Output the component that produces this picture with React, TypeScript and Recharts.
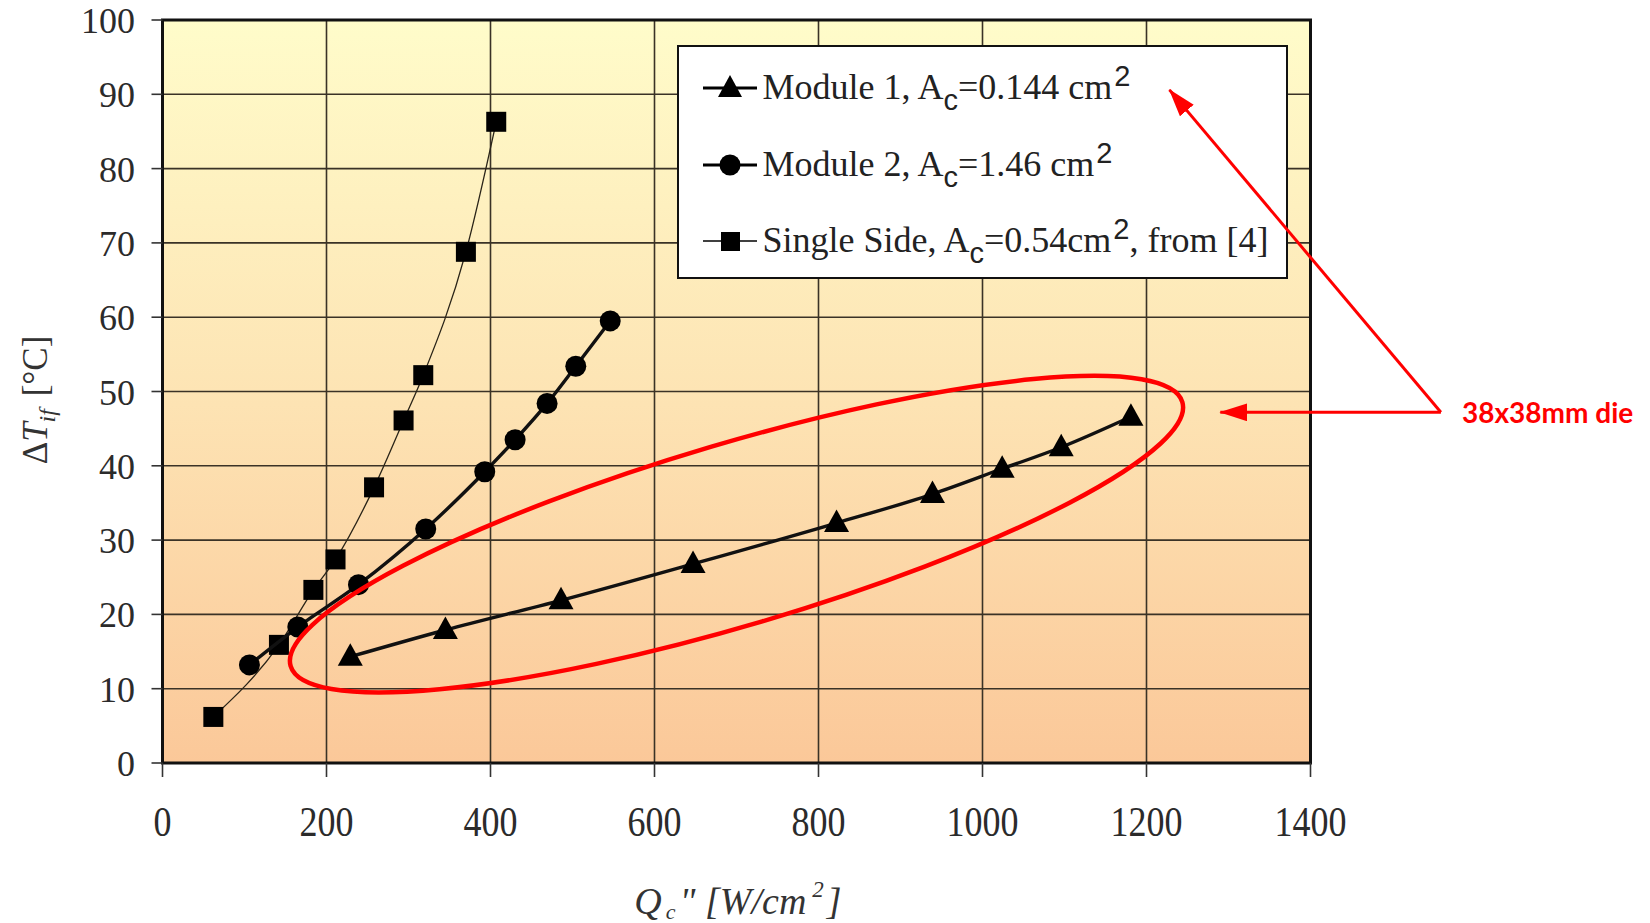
import React from 'react';
import { ScatterChart, Scatter, XAxis, YAxis, CartesianGrid, ReferenceArea } from 'recharts';

// Q_c'' [W/cm2] vs Delta T_if [C]
const module1X = [229, 345, 486, 647, 822, 939, 1024, 1096, 1181];
const module1Y = [14.3, 17.9, 21.9, 26.8, 32.3, 36.2, 39.6, 42.5, 46.6];

const module2X = [106, 165, 239, 321, 393, 430, 469, 504, 546];
const module2Y = [13.2, 18.3, 24.0, 31.5, 39.2, 43.5, 48.4, 53.4, 59.5];

const singleX = [62, 142, 184, 211, 258, 294, 318, 370, 407];
const singleY = [6.2, 15.9, 23.3, 27.4, 37.1, 46.1, 52.2, 68.8, 86.3];

const xTicks = [0, 200, 400, 600, 800, 1000, 1200, 1400];
const yTicks = [0, 10, 20, 30, 40, 50, 60, 70, 80, 90, 100];

const legendNames = ['Module 1', 'Module 2', 'Single Side'];
const legendAreas = ['0.144 cm', '1.46 cm', '0.54cm'];

const toPoints = (xs: number[], ys: number[]) => xs.map((x, i) => ({ x, y: ys[i] }));

// plot geometry
const W = 1650;
const H = 923;
const PL = 162.5;
const PT = 20;
const PR = 1310.5;
const PB = 763;
const px = (v: number) => PL + (v / 1400) * (PR - PL);
const py = (v: number) => PB - (v / 100) * (PB - PT);

const serif = '"Liberation Serif", "Times New Roman", serif';
const sans = '"Liberation Sans", Arial, sans-serif';

const Triangle = (props: any) => {
  const { cx, cy } = props;
  return <polygon points={`${cx},${cy - 13.5} ${cx - 12.5},${cy + 9} ${cx + 12.5},${cy + 9}`} fill="#000" />;
};
const Dot = (props: any) => <circle cx={props.cx} cy={props.cy} r={10.5} fill="#000" />;
const Square = (props: any) => (
  <rect x={props.cx - 10} y={props.cy - 10} width={20} height={20} fill="#000" />
);

const XTick = (props: any) => {
  const { x, y, payload } = props;
  return (
    <text
      transform={`translate(${x},${y}) scale(1,1.15)`}
      textAnchor="middle"
      fontFamily={serif}
      fontSize={36}
      fill="#2b2b2b"
    >
      {payload.value}
    </text>
  );
};

const YTick = (props: any) => {
  const { x, y, payload } = props;
  return (
    <text x={x} y={y} dy={13} textAnchor="end" fontFamily={serif} fontSize={36} fill="#2b2b2b">
      {payload.value}
    </text>
  );
};

const LegendIcon = ({ kind }: { kind: number }) => (
  <svg width={58} height={30} style={{ position: 'absolute', left: 22, top: 0 }}>
    <line x1={2} y1={15} x2={56} y2={15} stroke="#000" strokeWidth={kind === 2 ? 1.4 : 3.2} />
    {kind === 0 && <polygon points="29,2 17,24 41,24" fill="#000" />}
    {kind === 1 && <circle cx={29} cy={15} r={10.5} fill="#000" />}
    {kind === 2 && <rect x={20} y={6} width={19} height={19} fill="#000" />}
  </svg>
);

const ChartLegend = () => (
  <div
    style={{
      position: 'absolute',
      left: 676.5,
      top: 45,
      width: 611,
      height: 234,
      boxSizing: 'border-box',
      border: '2.5px solid #111',
      background: '#fff',
    }}
  >
    {legendNames.map((name, i) => (
      <div key={name} style={{ position: 'absolute', left: 0, top: 26 + i * 76.5, height: 30, width: '100%' }}>
        <LegendIcon kind={i} />
        <div
          style={{
            position: 'absolute',
            left: 84,
            top: -9,
            whiteSpace: 'nowrap',
            fontFamily: serif,
            fontSize: 36,
            lineHeight: '46px',
            color: '#222',
          }}
        >
          {name}, A
          <span style={{ fontFamily: sans, fontSize: 29, position: 'relative', top: 11 }}>c</span>={legendAreas[i]}
          <span style={{ fontFamily: sans, fontSize: 29, position: 'relative', top: -13, marginLeft: 2 }}>2</span>
          {i === 2 ? ', from [4]' : ''}
        </div>
      </div>
    ))}
  </div>
);

// annotation (red ellipse + arrows), placed in data units
const ellipseCenter = { x: 700, y: 30.8 };
const arrowApex = { x: 1559, y: 47.2 };
const arrowTips = [
  { x: 1228, y: 90.6 },
  { x: 1290, y: 47.2 },
];

const Overlay = () => (
  <svg width={W} height={H} style={{ position: 'absolute', left: 0, top: 0, pointerEvents: 'none' }}>
    <defs>
      <marker id="redHead" markerUnits="userSpaceOnUse" markerWidth={28} markerHeight={18} refX={27} refY={9} orient="auto">
        <path d="M0,0 L28,9 L0,18 Z" fill="#ff0000" />
      </marker>
    </defs>
    <ellipse
      cx={px(ellipseCenter.x)}
      cy={py(ellipseCenter.y)}
      rx={465}
      ry={91}
      transform={`rotate(-16.5 ${px(ellipseCenter.x)} ${py(ellipseCenter.y)})`}
      fill="none"
      stroke="#ff0000"
      strokeWidth={4.5}
    />
    {arrowTips.map((t, i) => (
      <line
        key={i}
        x1={px(arrowApex.x)}
        y1={py(arrowApex.y)}
        x2={px(t.x)}
        y2={py(t.y)}
        stroke="#ff0000"
        strokeWidth={3}
        markerEnd="url(#redHead)"
      />
    ))}
    <text x={1462} y={423} fontFamily="Lato, 'Open Sans', sans-serif" fontWeight={700} fontSize={28} fill="#ff0000">
      38x38mm die
    </text>

    {/* axis titles */}
    <text
      transform="translate(47,400) rotate(-90)"
      textAnchor="middle"
      fontFamily={serif}
      fontSize={35}
      fill="#333"
    >
      <tspan>Δ</tspan>
      <tspan fontStyle="italic">T</tspan>
      <tspan fontStyle="italic" fontSize={24} dy={8}>if</tspan>
      <tspan dy={-8} dx={4}> [°C]</tspan>
    </text>
    <text x={738} y={914} textAnchor="middle" fontFamily={serif} fontStyle="italic" fontSize={38} fill="#333">
      <tspan>Q</tspan>
      <tspan fontSize={22} dy={5} dx={4}>c</tspan>
      <tspan dy={-5} dx={4}>" [W/cm</tspan>
      <tspan fontSize={23} dy={-17} dx={6}>2</tspan>
      <tspan dy={17} dx={3}>]</tspan>
    </text>
  </svg>
);

export default function App() {
  return (
    <div style={{ position: 'absolute', left: 0, top: 0, width: W, height: H, background: '#fff' }}>
      <ScatterChart width={W} height={H} margin={{ top: PT, right: W - PR, bottom: 0, left: 0 }}>
        <defs>
          <linearGradient id="plotBg" x1="0" y1="0" x2="0" y2="1">
            <stop offset="0%" stopColor="#fffcca" />
            <stop offset="50%" stopColor="#fde4b4" />
            <stop offset="100%" stopColor="#fbc899" />
          </linearGradient>
        </defs>
        <CartesianGrid fill="url(#plotBg)" fillOpacity={1} stroke="#3a3226" strokeWidth={1.6} />
        <XAxis
          type="number"
          dataKey="x"
          domain={[0, 1400]}
          ticks={xTicks}
          interval={0}
          height={H - PB}
          tickSize={14}
          tickMargin={59}
          axisLine={false}
          tickLine={{ stroke: '#333', strokeWidth: 1.6 }}
          tick={<XTick />}
        />
        <YAxis
          type="number"
          dataKey="y"
          domain={[0, 100]}
          ticks={yTicks}
          interval={0}
          width={PL}
          tickSize={11}
          tickMargin={16.5}
          axisLine={false}
          tickLine={{ stroke: '#333', strokeWidth: 1.6 }}
          tick={<YTick />}
        />
        <ReferenceArea x1={0} x2={1400} y1={0} y2={100} fill="none" stroke="#111" strokeWidth={3} />
        <Scatter
          name="Single Side"
          data={toPoints(singleX, singleY)}
          fill="#000"
          line={{ stroke: '#2a2418', strokeWidth: 1.3 }}
          lineJointType="monotoneX"
          shape={<Square />}
          isAnimationActive={false}
        />
        <Scatter
          name="Module 2"
          data={toPoints(module2X, module2Y)}
          fill="#000"
          line={{ stroke: '#111', strokeWidth: 3.4 }}
          lineJointType="monotoneX"
          shape={<Dot />}
          isAnimationActive={false}
        />
        <Scatter
          name="Module 1"
          data={toPoints(module1X, module1Y)}
          fill="#000"
          line={{ stroke: '#111', strokeWidth: 3.4 }}
          lineJointType="monotoneX"
          shape={<Triangle />}
          isAnimationActive={false}
        />
      </ScatterChart>
      <ChartLegend />
      <Overlay />
    </div>
  );
}
